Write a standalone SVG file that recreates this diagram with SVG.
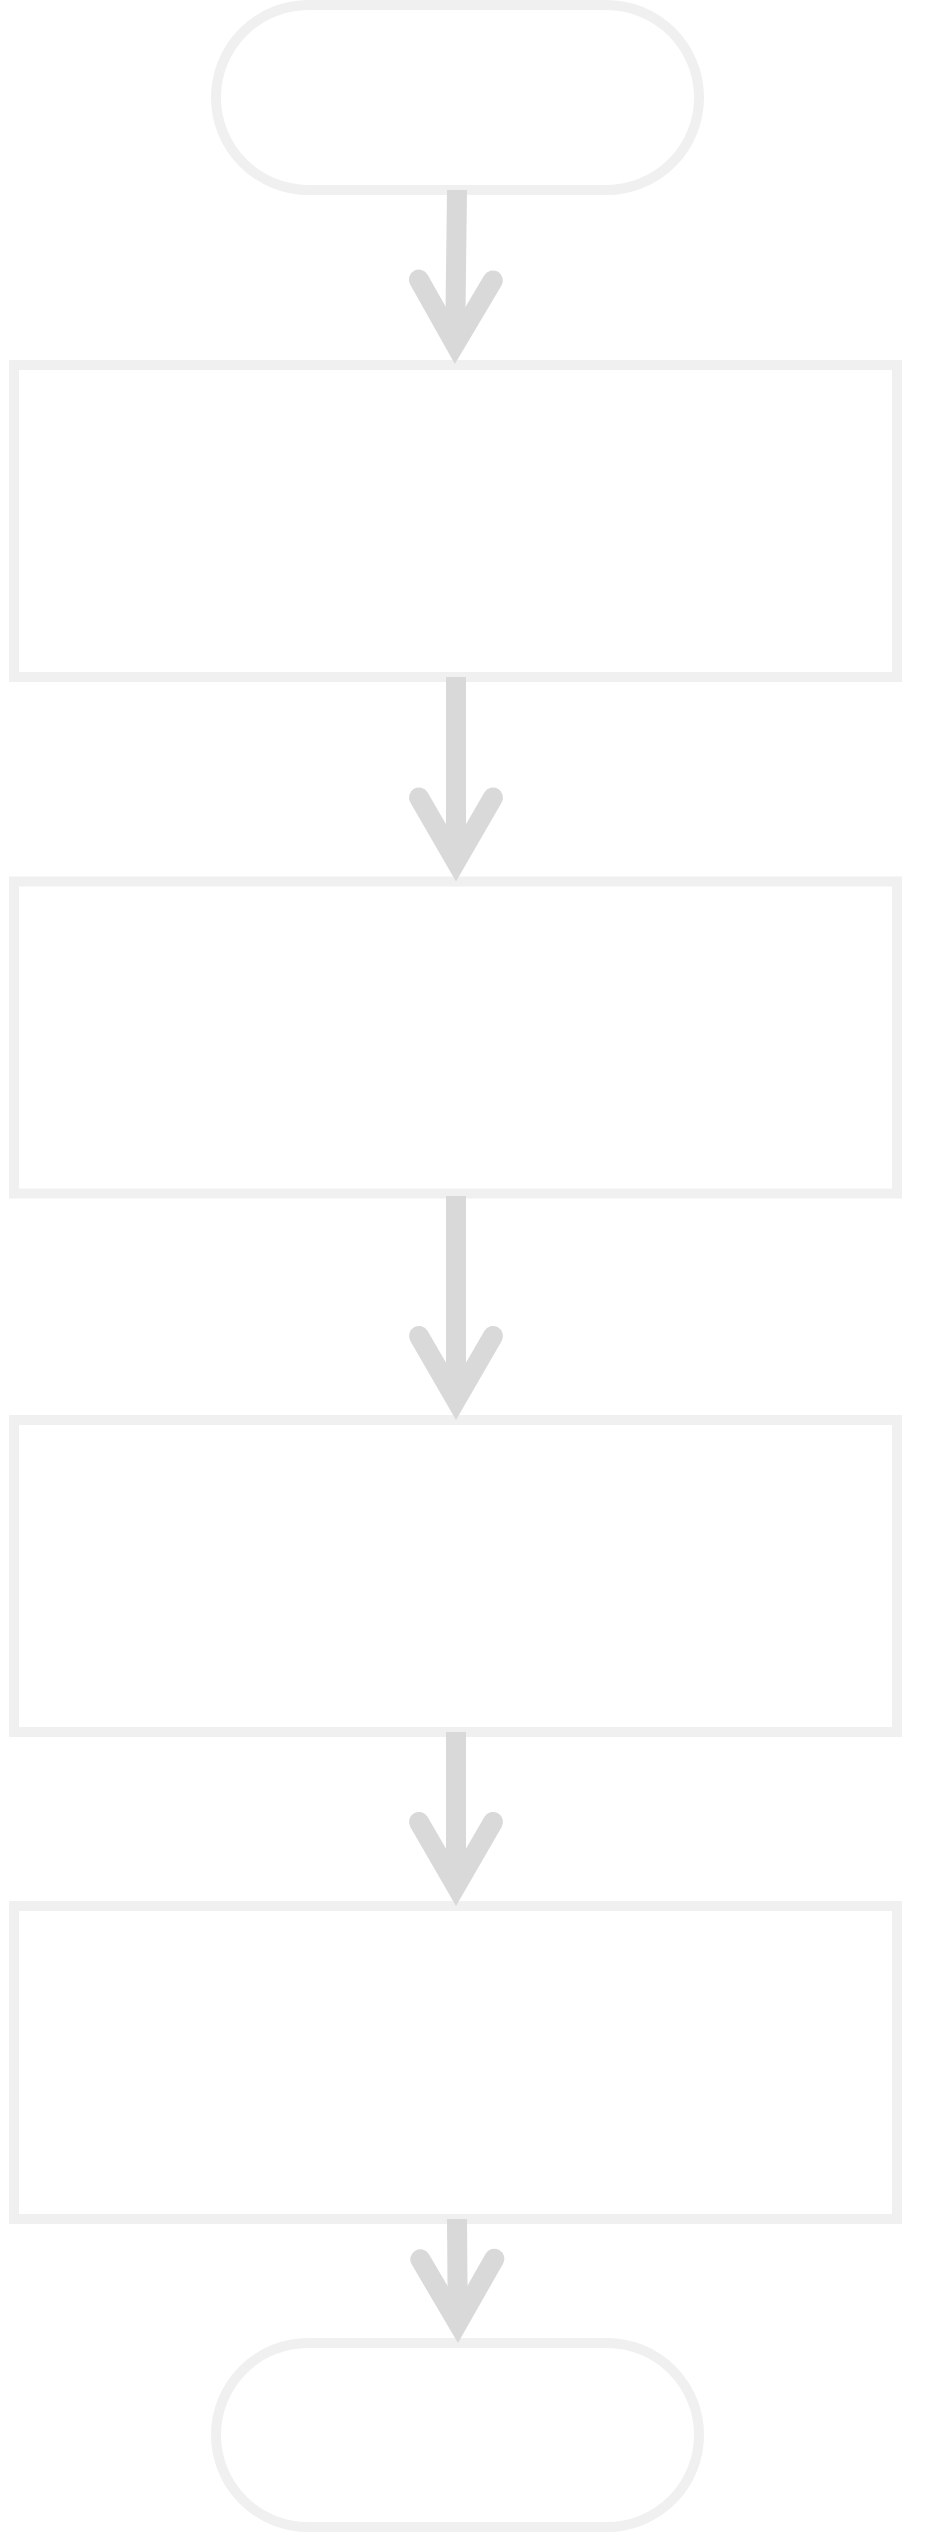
<svg xmlns="http://www.w3.org/2000/svg" width="928" height="2535" viewBox="0 0 928 2535">
  <style>
    .node { fill: #ffffff; stroke: #f0f0f0; stroke-width: 10; }
    .edge { fill: none; stroke: #d9d9d9; stroke-width: 20; stroke-linecap: butt; }
    .head { fill: none; stroke: #d9d9d9; stroke-width: 20; stroke-linecap: round; stroke-linejoin: miter; stroke-miterlimit: 10; }
  </style>
  <defs>
    <marker id="arrow" markerUnits="userSpaceOnUse" orient="auto" refX="0" refY="0" markerWidth="200" markerHeight="200" overflow="visible">
      <path class="head" d="M-64,-37 L0,0 L-64,37"/>
    </marker>
  </defs>
  <rect width="928" height="2535" fill="#ffffff"/>
  <g id="nodes">
    <g id="start"><rect class="node" x="216" y="5" width="483" height="185" rx="92.5" ry="92.5"/></g>
    <g id="step1"><rect class="node" x="14" y="365" width="883" height="312"/></g>
    <g id="step2"><rect class="node" x="14" y="881.5" width="883" height="312"/></g>
    <g id="step3"><rect class="node" x="14" y="1420" width="883" height="312"/></g>
    <g id="step4"><rect class="node" x="14" y="1906" width="883" height="313"/></g>
    <g id="end"><rect class="node" x="216" y="2343" width="483" height="184" rx="92" ry="92"/></g>
  </g>
  <g id="connectors">
    <path class="edge" d="M457,190 L455.1,344" marker-end="url(#arrow)"/>
    <path class="edge" d="M456,677 L456,861.5" marker-end="url(#arrow)"/>
    <path class="edge" d="M456,1196 L456,1400" marker-end="url(#arrow)"/>
    <path class="edge" d="M456,1732 L456,1886" marker-end="url(#arrow)"/>
    <path class="edge" d="M457,2219 L457.8,2323" marker-end="url(#arrow)"/>
  </g>
</svg>
